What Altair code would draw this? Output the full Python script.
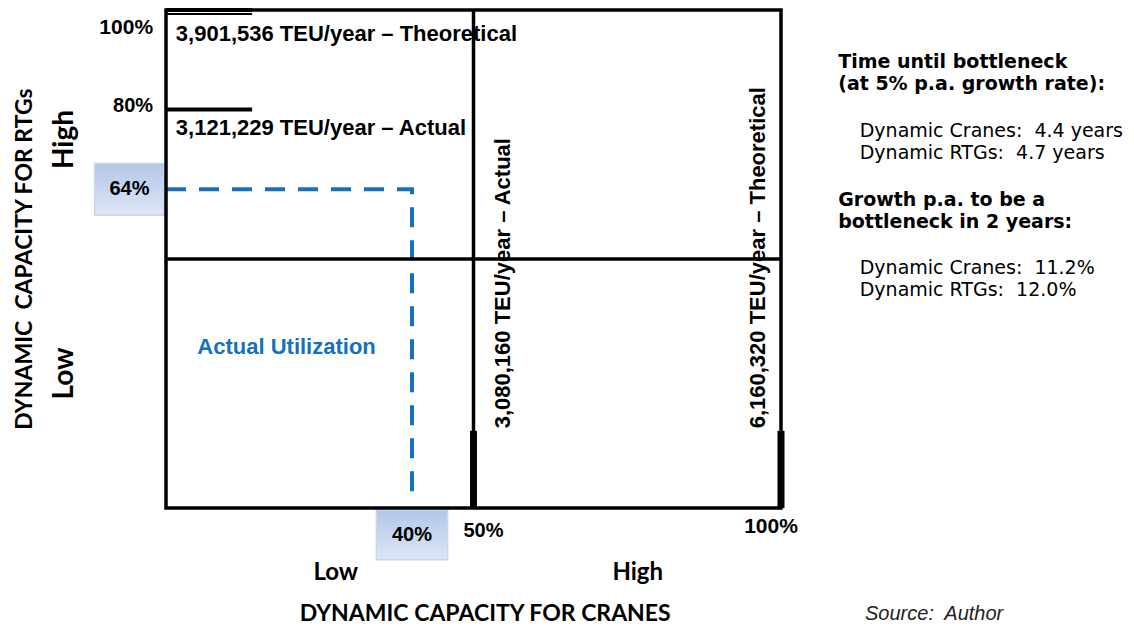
import altair as alt
import pandas as pd

# ---------------- data ----------------
util_cranes = 0.40
util_rtgs = 0.64
util_cranes_label = "40%"
util_rtgs_label = "64%"

rtg_marks = [1.0, 0.8]
rtg_mark_labels = ["100%", "80%"]
rtg_capacity_labels = ["3,901,536 TEU/year \u2013 Theoretical", "3,121,229 TEU/year \u2013 Actual"]

crane_marks = [0.5, 1.0]
crane_mark_labels = ["50%", "100%"]
crane_capacity_labels = ["3,080,160 TEU/year \u2013 Actual", "6,160,320 TEU/year \u2013 Theoretical"]

side_heads = ["Time until bottleneck", "(at 5% p.a. growth rate):",
              "Growth p.a. to be a", "bottleneck in 2 years:"]
side_items = ["Dynamic Cranes:\u00a0 4.4 years", "Dynamic RTGs:\u00a0 4.7 years",
              "Dynamic Cranes:\u00a0 11.2%", "Dynamic RTGs:\u00a0 12.0%"]

# ---------------- geometry / styles ----------------
W, H = 615, 498
BLUE = "#1570c0"
ARIAL = "Liberation Sans"
CALIBRI = "Lato"
VERDANA = "DejaVu Sans"

X = alt.Scale(domain=[0, 1], nice=False, zero=False)
Y = alt.Scale(domain=[0, 1], nice=False, zero=False)


def q(name):
    return alt.X(f"{name}:Q", scale=X, axis=None)


def qy(name):
    return alt.Y(f"{name}:Q", scale=Y, axis=None)


def text_layer(df, **kw):
    enc = dict(x=q("x"), y=qy("y"), text="t:N")
    return alt.Chart(df).mark_text(**kw).encode(**enc)


# frame
frame = alt.Chart(pd.DataFrame({"x": [0], "x2": [1], "y": [0], "y2": [1]})).mark_rect(
    fill=None, stroke="black", strokeWidth=3.5
).encode(x=q("x"), x2="x2:Q", y=qy("y"), y2="y2:Q")

# quadrant dividers
vdiv = alt.Chart(pd.DataFrame({"x": [0.5], "y": [0], "y2": [1]})).mark_rule(
    color="black", strokeWidth=3.5
).encode(x=q("x"), y=qy("y"), y2="y2:Q")
hdiv = alt.Chart(pd.DataFrame({"y": [0.5], "x": [0], "x2": [1]})).mark_rule(
    color="black", strokeWidth=3.5
).encode(y=qy("y"), x=q("x"), x2="x2:Q")

# capacity markers on the RTG (y) side
rtg_df = pd.DataFrame({"y": rtg_marks, "x": [0, 0], "x2": [0.14, 0.14], "t": rtg_mark_labels})
rtg_rules = alt.Chart(rtg_df).mark_rule(color="black", strokeWidth=4).encode(
    y=qy("y"), x=q("x"), x2="x2:Q"
)
rtg_top = alt.Chart(rtg_df.iloc[[0]]).mark_rule(color="black", strokeWidth=2, yOffset=4).encode(
    y=qy("y"), x=q("x"), x2="x2:Q"
)
# capacity markers on the crane (x) side
crane_df = pd.DataFrame({"x": crane_marks, "y": [0, 0], "y2": [0.155, 0.155], "t": crane_mark_labels})
crane_rules = alt.Chart(crane_df).mark_rule(color="black", strokeWidth=7).encode(
    x=q("x"), y=qy("y"), y2="y2:Q"
)

# actual utilization dashed path
path_df = pd.DataFrame({"x": [0, util_cranes, util_cranes],
                        "y": [util_rtgs, util_rtgs, 0.015],
                        "o": [0, 1, 2]})
path = alt.Chart(path_df).mark_line(color=BLUE, strokeWidth=4, strokeDash=[20, 13]).encode(
    x=q("x"), y=qy("y"), order="o:Q"
)

grad = alt.Gradient(
    gradient="linear", x1=0, x2=0, y1=0, y2=1,
    stops=[alt.GradientStop(offset=0, color="#b3c6e8"),
           alt.GradientStop(offset=1, color="#dde6f5")],
)
box_df = pd.DataFrame({
    "x": [-0.116, util_cranes - 0.058],
    "x2": [-0.003, util_cranes + 0.058],
    "y": [util_rtgs - 0.052, -0.004],
    "y2": [util_rtgs + 0.052, -0.104],
})
boxes = alt.Chart(box_df).mark_rect(fill=grad, stroke="#c8d6ee", strokeWidth=1.5).encode(
    x=q("x"), x2="x2:Q", y=qy("y"), y2="y2:Q"
)
box_text = text_layer(
    pd.DataFrame({"x": [-0.0595, util_cranes], "y": [util_rtgs, -0.054],
                  "t": [util_rtgs_label, util_cranes_label]}),
    font=ARIAL, fontWeight="bold", fontSize=20, color="black", align="center", baseline="middle",
)

# capacity texts
rtg_cap_text = text_layer(
    pd.DataFrame({"x": [0.016, 0.016], "y": [0.951, 0.764], "t": rtg_capacity_labels}),
    font=ARIAL, fontWeight="bold", fontSize=22, color="black", align="left", baseline="middle",
)
crane_cap_text = text_layer(
    pd.DataFrame({"x": [0.548, 0.962], "y": [0.16, 0.16], "t": crane_capacity_labels}),
    font=ARIAL, fontWeight="bold", fontSize=22, color="black", align="left", baseline="middle",
    angle=270,
)
util_text = text_layer(
    pd.DataFrame({"x": [0.196], "y": [0.323], "t": ["Actual Utilization"]}),
    font=ARIAL, fontWeight="bold", fontSize=22, color=BLUE, align="center", baseline="middle",
)

# tick labels
rtg_tick_100 = text_layer(
    pd.DataFrame({"x": [-0.021], "y": [rtg_marks[0]], "t": [rtg_mark_labels[0]]}),
    font=ARIAL, fontWeight="bold", fontSize=21, color="black", align="right", baseline="middle", dy=18,
)
rtg_tick_80 = text_layer(
    pd.DataFrame({"x": [-0.021], "y": [rtg_marks[1]], "t": [rtg_mark_labels[1]]}),
    font=ARIAL, fontWeight="bold", fontSize=20, color="black", align="right", baseline="middle", dy=-4,
)
crane_tick_50 = text_layer(
    pd.DataFrame({"x": [crane_marks[0]], "y": [-0.046], "t": [crane_mark_labels[0]]}),
    font=ARIAL, fontWeight="bold", fontSize=20, color="black", align="center", baseline="middle", dx=10,
)
crane_tick_100 = text_layer(
    pd.DataFrame({"x": [crane_marks[1]], "y": [-0.039], "t": [crane_mark_labels[1]]}),
    font=ARIAL, fontWeight="bold", fontSize=21, color="black", align="center", baseline="middle", dx=-10,
)

# axis words
y_words = text_layer(
    pd.DataFrame({"x": [-0.165, -0.165], "y": [0.74, 0.27], "t": ["High", "Low"]}),
    font=CALIBRI, fontWeight="bold", fontSize=28, color="black", align="center", baseline="middle",
    angle=270,
)
y_title = text_layer(
    pd.DataFrame({"x": [-0.229], "y": [0.5], "t": ["DYNAMIC\u00a0 CAPACITY FOR RTGs"]}),
    font=CALIBRI, fontWeight="bold", fontSize=23, color="black", align="center", baseline="middle",
    angle=270,
)
x_words = text_layer(
    pd.DataFrame({"x": [0.276, 0.767], "y": [-0.131, -0.131], "t": ["Low", "High"]}),
    font=CALIBRI, fontWeight="bold", fontSize=24, color="black", align="center", baseline="middle",
)
x_title = text_layer(
    pd.DataFrame({"x": [0.519], "y": [-0.212], "t": ["DYNAMIC CAPACITY FOR CRANES"]}),
    font=CALIBRI, fontWeight="bold", fontSize=23, color="black", align="center", baseline="middle",
)
source = text_layer(
    pd.DataFrame({"x": [1.249], "y": [-0.212], "t": ["Source:\u00a0 Author"]}),
    font=ARIAL, fontStyle="italic", fontSize=20, color="#222222", align="center", baseline="middle",
)

# side panel
heads = text_layer(
    pd.DataFrame({"x": [1.093] * 4, "y": [0.896, 0.851, 0.619, 0.574], "t": side_heads}),
    font=VERDANA, fontWeight="bold", fontSize=19, color="black", align="left", baseline="middle",
)
items = text_layer(
    pd.DataFrame({"x": [1.128] * 4, "y": [0.757, 0.713, 0.481, 0.437], "t": side_items}),
    font=VERDANA, fontSize=19, color="black", align="left", baseline="middle",
)

chart = alt.layer(
    boxes, path, frame, vdiv, hdiv, rtg_rules, rtg_top, crane_rules,
    box_text, rtg_cap_text, crane_cap_text, util_text,
    rtg_tick_100, rtg_tick_80, crane_tick_50, crane_tick_100,
    y_words, y_title, x_words, x_title, source, heads, items,
).properties(
    width=W, height=H,
    autosize=alt.AutoSizeParams(type="none"),
    padding={"left": 158, "top": 2, "right": 345, "bottom": 119},
    background="white",
).configure_view(strokeWidth=0)

chart.save("out.html", embed_options={"renderer": "svg", "actions": False})
